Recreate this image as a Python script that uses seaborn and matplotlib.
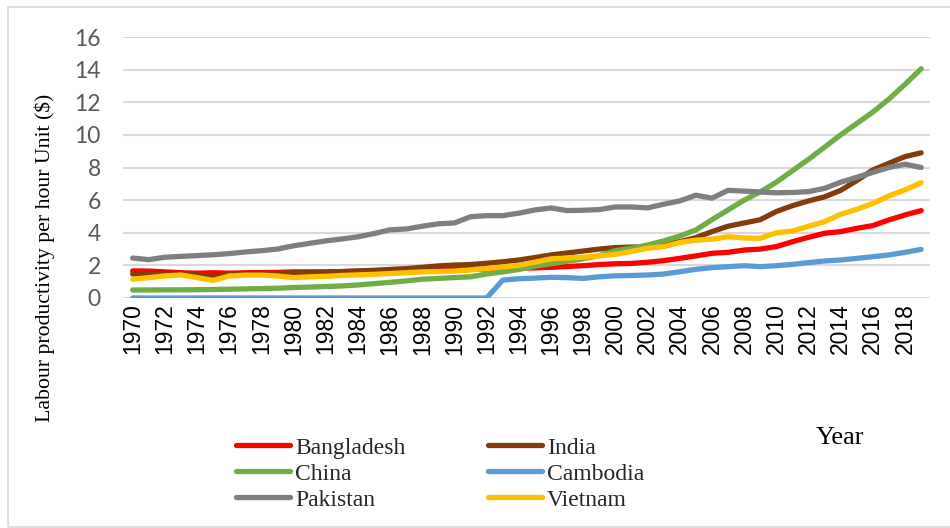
import matplotlib
matplotlib.use("Agg")
import matplotlib.pyplot as plt
from matplotlib.lines import Line2D
from matplotlib.patches import Rectangle
import numpy as np
import pandas as pd
import seaborn as sns

years = list(range(1970, 2020))

bangladesh = [1.66, 1.65, 1.60, 1.55, 1.52, 1.55, 1.52, 1.55, 1.56, 1.57,
              1.60, 1.60, 1.60, 1.62, 1.63, 1.65, 1.67, 1.68, 1.70, 1.72,
              1.74, 1.75, 1.77, 1.79, 1.82, 1.85, 1.88, 1.93, 1.98, 2.05,
              2.10, 2.12, 2.19, 2.29, 2.43, 2.58, 2.74, 2.80, 2.94, 3.00,
              3.15, 3.45, 3.72, 3.97, 4.07, 4.27, 4.44, 4.79, 5.09, 5.36]

india = [1.47, 1.48, 1.50, 1.50, 1.42, 1.30, 1.45, 1.48, 1.50, 1.50,
         1.55, 1.57, 1.58, 1.62, 1.66, 1.70, 1.75, 1.80, 1.88, 1.97,
         2.02, 2.05, 2.13, 2.22, 2.33, 2.48, 2.64, 2.76, 2.88, 3.00,
         3.09, 3.12, 3.15, 3.28, 3.45, 3.70, 4.07, 4.40, 4.60, 4.80,
         5.30, 5.66, 5.95, 6.20, 6.60, 7.20, 7.85, 8.26, 8.67, 8.90]

china = [0.49, 0.49, 0.50, 0.50, 0.51, 0.52, 0.54, 0.56, 0.58, 0.60,
         0.64, 0.67, 0.70, 0.74, 0.80, 0.88, 0.96, 1.05, 1.15, 1.20,
         1.25, 1.30, 1.47, 1.60, 1.75, 1.95, 2.10, 2.25, 2.40, 2.60,
         2.90, 3.05, 3.25, 3.50, 3.80, 4.17, 4.80, 5.40, 6.00, 6.50,
         7.10, 7.80, 8.50, 9.25, 10.00, 10.70, 11.40, 12.20, 13.10, 14.05]

cambodia = [0.0] * 23 + [1.10, 1.18, 1.22, 1.27, 1.25, 1.20, 1.30,
                         1.36, 1.38, 1.41, 1.47, 1.61, 1.76, 1.86, 1.92,
                         1.98, 1.92, 1.98, 2.06, 2.17, 2.27, 2.33, 2.43,
                         2.53, 2.64, 2.80, 2.98]

pakistan = [2.45, 2.35, 2.50, 2.55, 2.60, 2.65, 2.72, 2.82, 2.90, 3.00,
            3.20, 3.35, 3.50, 3.62, 3.75, 3.95, 4.18, 4.23, 4.40, 4.55,
            4.60, 4.98, 5.05, 5.05, 5.20, 5.40, 5.52, 5.36, 5.38, 5.42,
            5.58, 5.58, 5.52, 5.75, 5.95, 6.30, 6.12, 6.60, 6.55, 6.50,
            6.45, 6.47, 6.52, 6.72, 7.10, 7.40, 7.70, 8.00, 8.20, 8.00]

vietnam = [1.15, 1.25, 1.35, 1.41, 1.25, 1.08, 1.35, 1.40, 1.40, 1.35,
           1.25, 1.30, 1.33, 1.38, 1.42, 1.45, 1.50, 1.55, 1.60, 1.62,
           1.65, 1.72, 1.80, 1.90, 2.00, 2.20, 2.40, 2.45, 2.50, 2.58,
           2.68, 2.85, 3.05, 3.15, 3.40, 3.55, 3.60, 3.76, 3.68, 3.66,
           4.00, 4.10, 4.40, 4.68, 5.13, 5.44, 5.80, 6.26, 6.63, 7.07]

countries = ["Bangladesh", "India", "China", "Cambodia", "Pakistan", "Vietnam"]
series = [bangladesh, india, china, cambodia, pakistan, vietnam]
colors = ["#FF0000", "#843C0C", "#70AD47", "#5B9BD5", "#7F7F7F", "#FFC000"]

df = pd.concat(
    [pd.DataFrame({"Year": years, "Value": vals, "Country": name})
     for name, vals in zip(countries, series)],
    ignore_index=True,
)

sns.set_theme(style="white")

W, H = 950, 528
fig = plt.figure(figsize=(W / 100, H / 100), dpi=100)
ax = fig.add_axes([123 / W, 1 - 298 / H, (930 - 123) / W, (298 - 37) / H])

sns.lineplot(data=df, x="Year", y="Value", hue="Country", hue_order=countries,
             palette=colors, linewidth=3.8, ax=ax, legend=False,
             solid_capstyle="round")

ax.set_xlim(1969.4, 2019.55)
ax.set_ylim(0, 16)
ax.set_yticks(np.arange(0, 17, 2))
ax.set_xticks(years[::2])
ax.set_xticklabels([str(y) for y in years[::2]], rotation=90,
                   fontfamily="Liberation Sans", fontsize=16.5, color="#000000")
ax.set_yticklabels([str(v) for v in range(0, 17, 2)],
                   fontfamily="Lato", fontsize=16.5, color="#595959")
ax.tick_params(axis="both", length=0)
ax.tick_params(axis="y", pad=16)
ax.tick_params(axis="x", pad=4)
ax.grid(axis="y", color="#D9D9D9", linewidth=1.5)
ax.set_axisbelow(True)
for s in ax.spines.values():
    s.set_visible(False)
ax.set_xlabel("")
ax.set_ylabel("")

fig.text(45 / W, 1 - 258 / H, "Labour productivity per hour Unit ($)",
         rotation=90, ha="center", va="center",
         fontfamily="Liberation Serif", fontsize=15.7, color="#000000")
fig.text(840 / W, 1 - 438 / H, "Year", ha="center", va="center",
         fontfamily="Liberation Serif", fontsize=19, color="#000000")

# legend, filled column by column
order = [0, 2, 4, 1, 3, 5]
handles = [Line2D([0], [0], color=colors[i], linewidth=3.8,
                  solid_capstyle="round") for i in order]
labels = [countries[i] for i in order]
fig.legend(handles, labels, ncol=2, loc="upper left",
           bbox_to_anchor=(236 / W, 1 - 437 / H), frameon=False,
           borderaxespad=0, borderpad=0, labelspacing=0.19,
           handlelength=2.3, handletextpad=0.2, columnspacing=3.5,
           prop={"family": "Liberation Serif", "size": 17})

# outer chart frame
fig.patches.append(Rectangle((8 / W, 1 - 527 / H), (W + 5 - 8) / W,
                             (527 - 7) / H, transform=fig.transFigure,
                             fill=False, edgecolor="#D9D9D9", linewidth=1.2))

fig.savefig("out.png", dpi=100)
